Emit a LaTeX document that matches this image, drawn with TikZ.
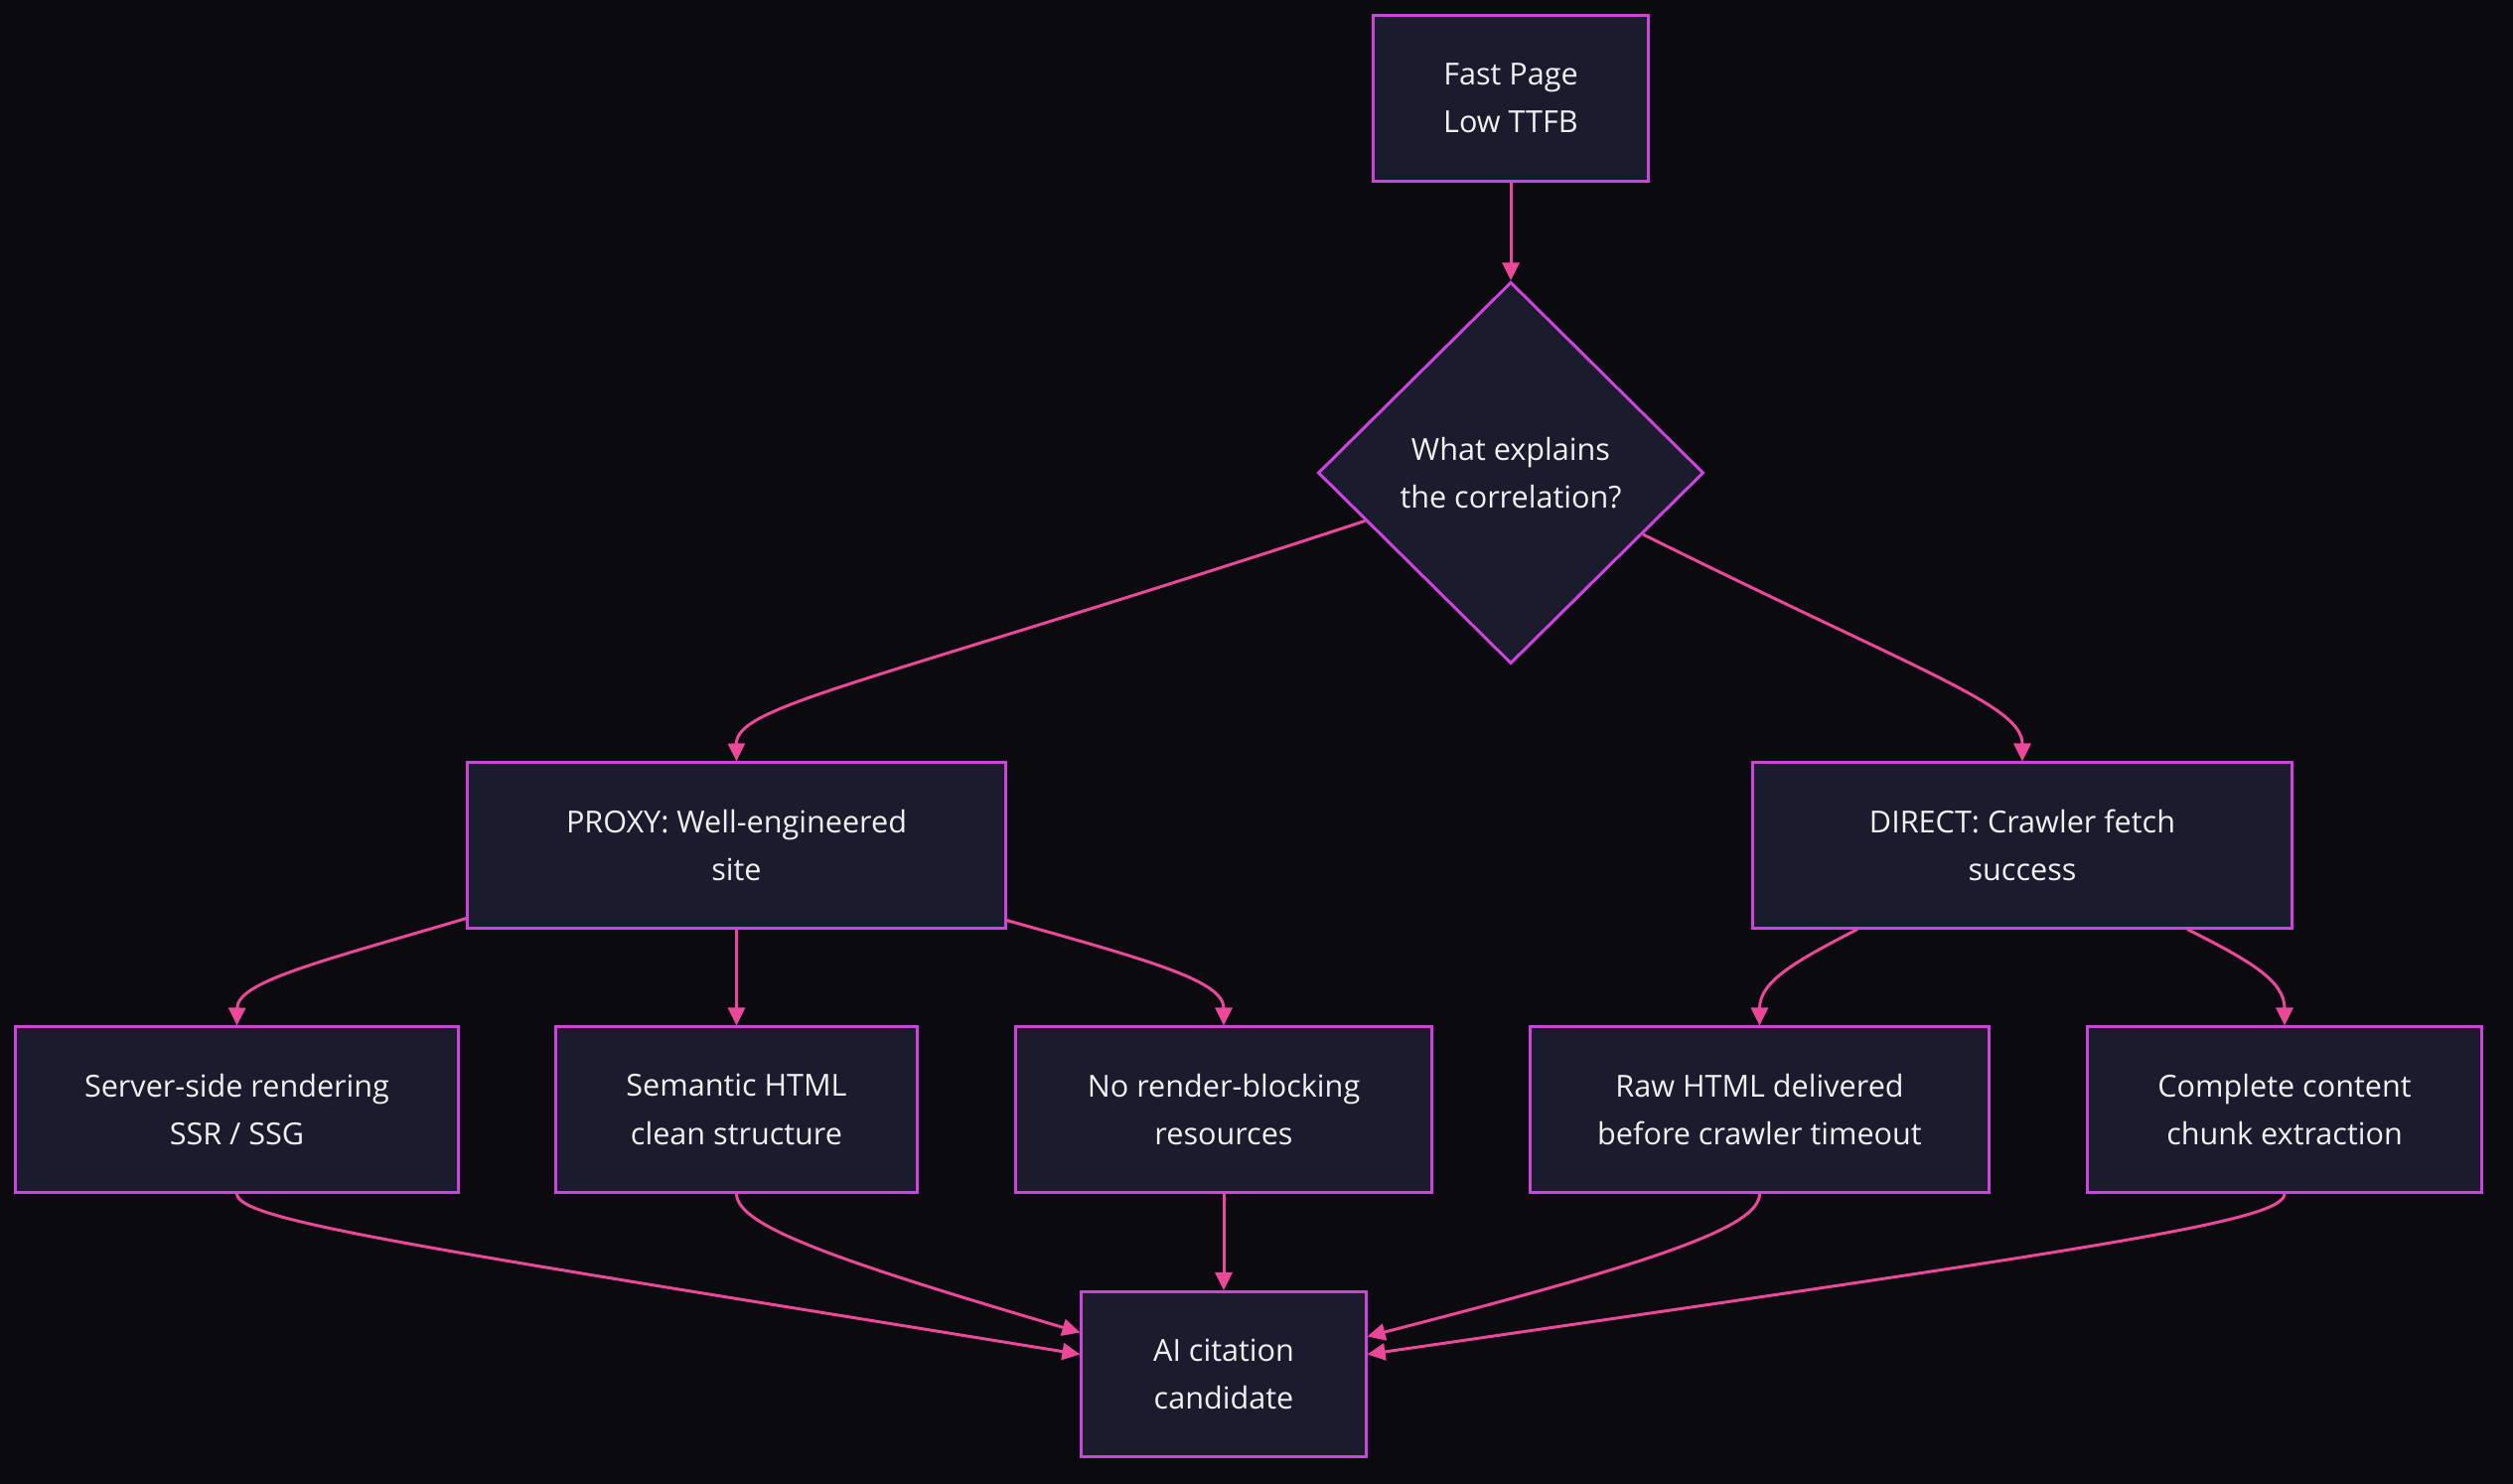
\documentclass[tikz,border=0pt]{standalone}
\usepackage{fontspec}
\setmainfont{Open Sans}
\usetikzlibrary{arrows.meta,positioning,calc,shapes.geometric}
\definecolor{bgdark}{RGB}{10,10,15}
\definecolor{boxfill}{RGB}{27,27,46}
\definecolor{boxline}{RGB}{204,68,221}
\definecolor{linkpink}{RGB}{236,72,153}
\definecolor{txtlight}{RGB}{240,240,245}
\newcommand{\boxfont}{\fontsize{8.7}{13.7}\selectfont}
\tikzset{
  box/.style={draw=boxline, fill=boxfill, line width=0.85pt,
              minimum height=1.66cm, align=center, text=txtlight, font=\boxfont},
  decide/.style={diamond, draw=boxline, fill=boxfill, line width=0.85pt,
              minimum width=3.88cm, minimum height=3.84cm, inner sep=0pt,
              align=center, text=txtlight, font=\boxfont},
  link/.style={-{Triangle[length=1.8mm, width=1.7mm]}, linkpink, line width=0.85pt},
}

\begin{document}
\begin{tikzpicture}[x=0.01cm, y=-0.01cm]
    \fill[bgdark] (0,0) rectangle (2530,1494);
    % question at the top
    \node[box, minimum width=2.76cm] (fast) at (1521,99) {Fast Page\\Low TTFB};
    \node[decide] (ask) at (1521,476) {What explains\\the correlation?};
    % the two readings
    \node[box, minimum width=5.41cm] (proxy) at (741.5,851) {PROXY: Well-engineered\\site};
    \node[box, minimum width=5.42cm] (direct) at (2036,851) {DIRECT: Crawler fetch\\success};
    % what lies under them
    \node[box, minimum width=4.45cm] (ssr) at (238.5,1117) {Server-side rendering\\SSR / SSG};
    \node[box, minimum width=3.63cm] (sem) at (741.5,1117) {Semantic HTML\\clean structure};
    \node[box, minimum width=4.18cm] (norb) at (1232,1117) {No render-blocking\\resources};
    \node[box, minimum width=4.61cm] (raw) at (1771.5,1117) {Raw HTML delivered\\before crawler timeout};
    \node[box, minimum width=3.96cm] (chunk) at (2300,1117) {Complete content\\chunk extraction};
    \node[box, minimum width=2.86cm] (cite) at (1232,1383.5) {AI citation\\candidate};

    \draw[link] (fast) -- (ask);
    \draw[link] ($(ask.west)!0.25!(ask.south)$) .. controls (870,690) and (741,710) .. (proxy.north);
    \draw[link] ($(ask.east)!0.32!(ask.south)$) .. controls (1936,678) and (2036,710) .. (direct.north);

    \draw[link] ([yshift=0.11cm]proxy.south west) .. controls (323,968) and (239,988) .. (ssr.north);
    \draw[link] (proxy) -- (sem);
    \draw[link] ([yshift=0.09cm]proxy.south east) .. controls (1162,968) and (1232,988) .. (norb.north);
    \draw[link] ([xshift=-1.66cm]direct.south) .. controls (1807,968) and (1771.5,988) .. (raw.north);
    \draw[link] ([xshift=1.66cm]direct.south) .. controls (2267,968) and (2300,988) .. (chunk.north);

    \draw[link] (ssr.south) .. controls (238.5,1229) and (419.5,1255) .. ([yshift=0.2cm]cite.west);
    \draw[link] (sem.south) .. controls (741.5,1234) and (839,1268) .. ([yshift=0.42cm]cite.west);
    \draw[link] (norb) -- (cite);
    \draw[link] (raw.south) .. controls (1771.5,1234) and (1678,1268) .. ([yshift=0.38cm]cite.east);
    \draw[link] (chunk.south) .. controls (2300,1229) and (2130,1254) .. ([yshift=0.2cm]cite.east);
\end{tikzpicture}
\end{document}
